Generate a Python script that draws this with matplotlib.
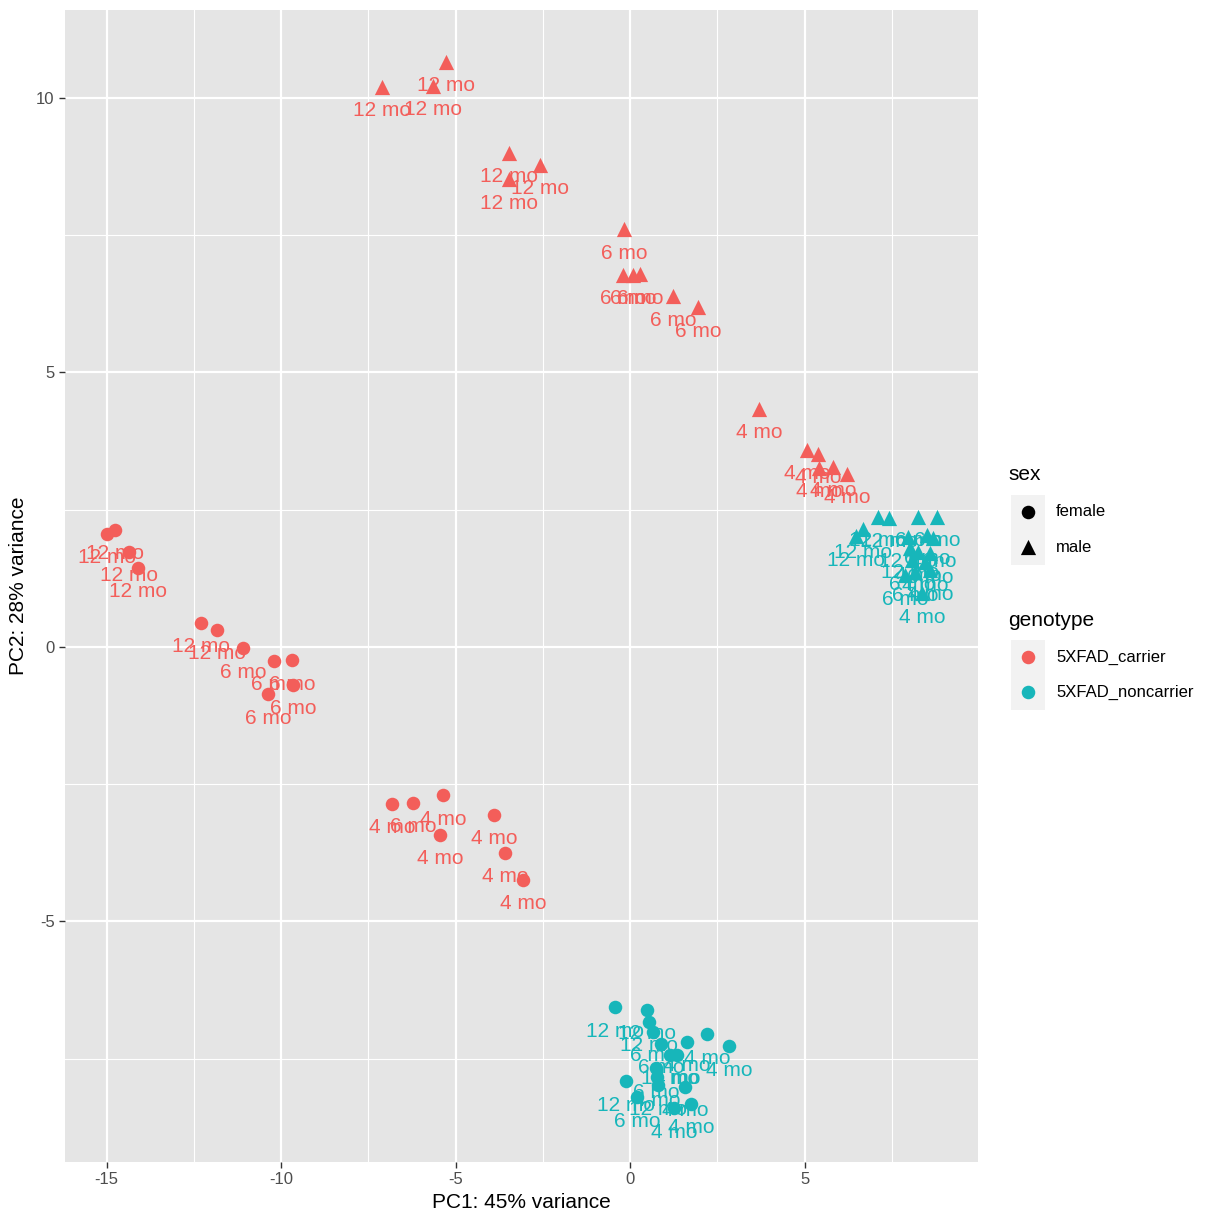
import numpy as np
import matplotlib
matplotlib.use('Agg')
import matplotlib.pyplot as plt

plt.rcParams['font.family'] = ['Liberation Sans', 'DejaVu Sans']
plt.rcParams['axes.unicode_minus'] = False

# carrier, male
car_m_pc1 = [-5.27, -7.11, -5.64, -3.47, -2.58, -3.47, -0.17, -0.20, 0.09,
             0.29, 1.23, 1.95, 3.70, 5.07, 5.39, 5.42, 5.82, 6.22]
car_m_pc2 = [10.66, 10.20, 10.22, 9.00, 8.78, 8.52, 7.61, 6.78, 6.78,
             6.79, 6.39, 6.19, 4.34, 3.59, 3.52, 3.26, 3.28, 3.15]
car_m_age = ['12 mo'] * 6 + ['6 mo'] * 6 + ['4 mo'] * 6

# carrier, female
car_f_pc1 = [-14.99, -14.76, -14.36, -14.10, -12.29, -11.83, -11.09, -10.20,
             -9.68, -9.66, -10.37, -6.82, -6.22, -5.36, -5.44, -3.90, -3.58,
             -3.07]
car_f_pc2 = [2.06, 2.13, 1.73, 1.44, 0.44, 0.31, -0.02, -0.25, -0.24, -0.69,
             -0.86, -2.86, -2.84, -2.70, -3.42, -3.06, -3.75, -4.24]
car_f_age = ['12 mo'] * 6 + ['6 mo'] * 5 + ['4 mo', '6 mo'] + ['4 mo'] * 5

# noncarrier, male
non_m_pc1 = [7.11, 7.42, 6.68, 6.48, 8.25, 8.80, 7.97, 8.51, 8.68, 8.02,
             8.25, 8.60, 8.08, 8.45, 8.17, 8.60, 8.37, 7.88]
non_m_pc2 = [2.37, 2.35, 2.15, 2.02, 2.37, 2.37, 2.00, 2.04, 1.99, 1.80,
             1.73, 1.71, 1.58, 1.55, 1.37, 1.40, 0.98, 1.31]
non_m_age = ['12 mo', '12 mo', '12 mo', '12 mo', '6 mo', '6 mo', '12 mo',
             '6 mo', '4 mo', '12 mo', '4 mo', '6 mo', '6 mo', '4 mo', '6 mo',
             '4 mo', '4 mo', '6 mo']

# noncarrier, female
non_f_pc1 = [-0.43, 0.49, 0.54, 0.66, 2.21, 1.63, 2.84, 0.89, 1.15, 1.35,
             0.74, 0.77, 0.80, -0.11, 1.58, 0.20, 1.75, 1.26]
non_f_pc2 = [-6.56, -6.61, -6.83, -7.01, -7.05, -7.19, -7.27, -7.23, -7.43,
             -7.43, -7.67, -7.83, -7.98, -7.91, -8.01, -8.20, -8.32, -8.40]
non_f_age = ['12 mo', '12 mo', '12 mo', '6 mo', '4 mo', '4 mo', '4 mo',
             '6 mo', '12 mo', '4 mo', '6 mo', '4 mo', '12 mo', '12 mo',
             '4 mo', '6 mo', '4 mo', '4 mo']

genotypes = ['5XFAD_carrier', '5XFAD_noncarrier']
sexes = ['female', 'male']
colors = {'5XFAD_carrier': '#F35E5A', '5XFAD_noncarrier': '#17B6BA'}
markers = {'female': 'o', 'male': '^'}
sizes = {'female': 95, 'male': 120}

groups = [
    ('5XFAD_carrier', 'male', car_m_pc1, car_m_pc2, car_m_age),
    ('5XFAD_carrier', 'female', car_f_pc1, car_f_pc2, car_f_age),
    ('5XFAD_noncarrier', 'male', non_m_pc1, non_m_pc2, non_m_age),
    ('5XFAD_noncarrier', 'female', non_f_pc1, non_f_pc2, non_f_age),
]

fig = plt.figure(figsize=(12.24, 12.24), dpi=100)
ax = fig.add_axes([65/1224, 1 - 1162/1224, (978-65)/1224, (1162-10)/1224])
ax.set_facecolor('#E5E5E5')
for s in ax.spines.values():
    s.set_visible(False)

ax.set_xlim(-16.19, 9.97)
ax.set_ylim(-9.38, 11.60)

# grid
for x in [-12.5, -7.5, -2.5, 2.5, 7.5]:
    ax.axvline(x, color='white', lw=0.8, zorder=0)
for y in [-7.5, -2.5, 2.5, 7.5]:
    ax.axhline(y, color='white', lw=0.8, zorder=0)
for x in [-15, -10, -5, 0, 5]:
    ax.axvline(x, color='white', lw=1.6, zorder=0)
for y in [-5, 0, 5, 10]:
    ax.axhline(y, color='white', lw=1.6, zorder=0)

ax.set_xticks([-15, -10, -5, 0, 5])
ax.set_yticks([-5, 0, 5, 10])
ax.tick_params(colors='#333333', labelcolor='#4D4D4D', labelsize=12,
               length=4, width=1)

for geno, sex, pc1, pc2, age in groups:
    ax.scatter(pc1, pc2, s=sizes[sex], marker=markers[sex],
               c=colors[geno], linewidths=0, zorder=2)
    for x, y, t in zip(pc1, pc2, age):
        ax.annotate(t, (x, y), xytext=(0, -24), textcoords='offset pixels',
                    ha='center', va='center', fontsize=15,
                    color=colors[geno], zorder=3)

ax.set_xlabel('PC1: 45% variance', fontsize=15, labelpad=4)
ax.set_ylabel('PC2: 28% variance', fontsize=15, labelpad=6)

# legends drawn in pixel coordinates
lg = fig.add_axes([0, 0, 1, 1], zorder=5)
lg.set_xlim(0, 1224)
lg.set_ylim(1224, 0)
lg.axis('off')

lg.text(1008, 475, 'sex', fontsize=15, va='center', ha='left')
lg.add_patch(plt.Rectangle((1011, 495), 34, 70, color='#F2F2F2', lw=0))
for i, sex in enumerate(sexes):
    y = 512 + 35 * i
    lg.scatter([1028], [y], s=sizes[sex], marker=markers[sex], c='black',
               linewidths=0)
    lg.text(1056, y, sex, fontsize=12, va='center', ha='left')

lg.text(1008, 620, 'genotype', fontsize=15, va='center', ha='left')
lg.add_patch(plt.Rectangle((1011, 640), 34, 70, color='#F2F2F2', lw=0))
for i, geno in enumerate(genotypes):
    y = 657 + 35 * i
    lg.scatter([1028], [y], s=sizes['female'], marker='o', c=colors[geno],
               linewidths=0)
    lg.text(1056, y, geno, fontsize=12, va='center', ha='left')

fig.savefig('out.png', dpi=100)
